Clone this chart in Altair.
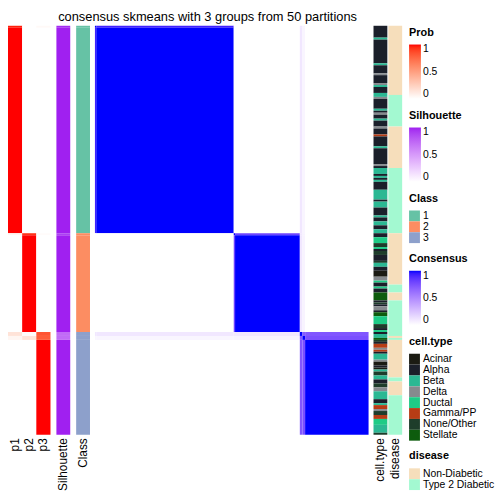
import altair as alt
import numpy as np
import pandas as pd

TITLE = "consensus skmeans with 3 groups from 50 partitions"
FONT = "Liberation Sans"

# sample groups (in heatmap order) and their values
group_sizes = [1, 104, 1, 49, 2, 2, 48]
group_class = ["1", "1", "2", "2", "3", "3", "3"]
group_p1 = [0.97, 1.0, 0.05, 0.0, 0.15, 0.05, 0.0]
group_p2 = [0.0, 0.0, 0.93, 1.0, 0.02, 0.15, 0.0]
group_p3 = [0.03, 0.0, 0.02, 0.0, 0.83, 0.80, 1.0]
group_silhouette = [0.97, 1.0, 0.9, 1.0, 0.72, 0.72, 1.0]
consensus_matrix = [
    [1.00, 0.93, 0.00, 0.00, 0.10, 0.04, 0.00],
    [0.93, 1.00, 0.00, 0.00, 0.10, 0.04, 0.00],
    [0.00, 0.00, 1.00, 0.80, 0.10, 0.05, 0.00],
    [0.00, 0.00, 0.80, 1.00, 0.10, 0.05, 0.00],
    [0.10, 0.10, 0.10, 0.10, 1.00, 0.70, 0.72],
    [0.04, 0.04, 0.05, 0.05, 0.70, 1.00, 0.75],
    [0.00, 0.00, 0.00, 0.00, 0.72, 0.75, 1.00],
]

cell_type_runs = [
    ("Alpha", 6), ("Beta", 1), ("Alpha", 12), ("Beta", 1), ("Alpha", 4), ("Delta", 1),
    ("Alpha", 4), ("Delta", 1), ("Beta", 1), ("Alpha", 3), ("Beta", 2), ("Delta", 1),
    ("Alpha", 5), ("Beta", 1), ("Alpha", 1), ("Delta", 1), ("Alpha", 2), ("Beta", 1),
    ("Alpha", 3), ("Delta", 1), ("Alpha", 3), ("Gamma/PP", 1), ("Alpha", 5), ("Beta", 1),
    ("Alpha", 8), ("Delta", 1), ("Alpha", 1), ("Beta", 3), ("Alpha", 1), ("Beta", 1),
    ("Alpha", 1), ("Beta", 1), ("Alpha", 4), ("Beta", 5), ("Alpha", 1), ("Beta", 3),
    ("Alpha", 4), ("Beta", 1), ("Alpha", 2), ("Beta", 2), ("Alpha", 2), ("Beta", 2),
    ("Alpha", 2), ("Ductal", 3), ("None/Other", 2), ("Ductal", 1), ("Alpha", 1),
    ("None/Other", 2), ("Alpha", 3), ("None/Other", 1), ("Beta", 2), ("Alpha", 2),
    ("Acinar", 3), ("Delta", 2), ("Ductal", 1), ("Alpha", 2), ("Ductal", 1), ("Alpha", 2),
    ("Stellate", 4), ("Alpha", 1), ("None/Other", 1), ("Alpha", 1), ("Delta", 2),
    ("Alpha", 1), ("Stellate", 2), ("Ductal", 4), ("None/Other", 2), ("Alpha", 1),
    ("Ductal", 1),
    ("Alpha", 1), ("Beta", 2), ("Stellate", 1), ("None/Other", 1), ("Alpha", 1),
    ("Gamma/PP", 2), ("Delta", 1), ("Gamma/PP", 1), ("Alpha", 1), ("Beta", 3), ("Delta", 1),
    ("Acinar", 2), ("Alpha", 1), ("Acinar", 1), ("Beta", 1), ("None/Other", 2), ("Beta", 2),
    ("Alpha", 2), ("None/Other", 2), ("Delta", 2), ("Beta", 4), ("Alpha", 2), ("Beta", 1),
    ("Gamma/PP", 2), ("Delta", 1), ("None/Other", 2), ("Gamma/PP", 2), ("Ductal", 3),
    ("Beta", 4), ("None/Other", 1),
]

disease_runs = [
    ("Non-Diabetic", 35), ("Type 2 Diabetic", 16), ("Non-Diabetic", 21),
    ("Type 2 Diabetic", 33), ("Non-Diabetic", 26), ("Type 2 Diabetic", 4),
    ("Non-Diabetic", 4), ("Type 2 Diabetic", 18), ("Non-Diabetic", 1),
    ("Type 2 Diabetic", 1), ("Non-Diabetic", 19), ("Type 2 Diabetic", 2),
    ("Non-Diabetic", 7), ("Type 2 Diabetic", 20),
]

class_levels = ["1", "2", "3"]
class_colors = ["#66c2a5", "#fc8d62", "#8da0cb"]
celltype_levels = ["Acinar", "Alpha", "Beta", "Delta", "Ductal", "Gamma/PP", "None/Other", "Stellate"]
celltype_colors = ["#1b1b13", "#1b1f2a", "#2bb893", "#868a8e", "#1ecb86", "#b73c15", "#1e3d2b", "#0d5c0d"]
disease_levels = ["Non-Diabetic", "Type 2 Diabetic"]
disease_colors = ["#f6debb", "#a3f9d1"]

# ---- build tables (runs of consecutive samples) ----
N = int(sum(group_sizes))
G = len(group_sizes)
g_end = np.cumsum(group_sizes)
g_start = g_end - np.array(group_sizes)

groups = pd.DataFrame({
    "y0": g_start, "y1": g_end,
    "p1": group_p1, "p2": group_p2, "p3": group_p3,
    "silhouette": group_silhouette, "cls": group_class,
})
plong = groups.melt(id_vars=["y0", "y1"], value_vars=["p1", "p2", "p3"],
                    var_name="col", value_name="prob")


def runs_table(runs, field):
    counts = np.array([r[1] for r in runs])
    e = np.cumsum(counts)
    return pd.DataFrame({"y0": e - counts, "y1": e, field: [r[0] for r in runs]})


ct_df = runs_table(cell_type_runs, "celltype")
dis_df = runs_table(disease_runs, "disease")

blocks = pd.DataFrame([
    {"x0": int(g_start[j]), "x1": int(g_end[j]), "y0": int(g_start[i]), "y1": int(g_end[i]),
     "consensus": consensus_matrix[i][j]}
    for i in range(G) for j in range(G)
])

# ---- encodings ----
H = 414
yscale = alt.Scale(domain=[0, N], reverse=True, nice=False, zero=False)
yenc = alt.Y("y0:Q", scale=yscale, axis=None)
y2enc = alt.Y2("y1:Q")
band = alt.Scale(paddingInner=0, paddingOuter=0)


def bottom_axis():
    return alt.Axis(title=None, labelAngle=270, labelAlign="right", labelBaseline="middle",
                    ticks=False, domain=False, labelPadding=3, labelFontSize=12,
                    labelFont=FONT, labelColor="black")


prob_scale = alt.Scale(domain=[0, 1], range=["#ffffff", "#ff0000"], interpolate="lab")
sil_scale = alt.Scale(domain=[0, 1], range=["#ffffff", "#a020f0"], interpolate="lab")
cons_scale = alt.Scale(domain=[0, 1], range=["#ffffff", "#0000ff"], interpolate="lab")
class_scale = alt.Scale(domain=class_levels, range=class_colors)
ct_scale = alt.Scale(domain=celltype_levels, range=celltype_colors)
dis_scale = alt.Scale(domain=disease_levels, range=disease_colors)

p_chart = alt.Chart(plong).mark_rect().encode(
    x=alt.X("col:N", axis=bottom_axis(), scale=band, sort=["p1", "p2", "p3"]),
    y=yenc, y2=y2enc,
    color=alt.Color("prob:Q", scale=prob_scale, legend=None),
).properties(width=43, height=H)

sil_chart = alt.Chart(groups.assign(col="Silhouette")).mark_rect().encode(
    x=alt.X("col:N", axis=bottom_axis(), scale=band),
    y=yenc, y2=y2enc,
    color=alt.Color("silhouette:Q", scale=sil_scale, legend=None),
).properties(width=14, height=H)

class_chart = alt.Chart(groups.assign(col="Class")).mark_rect().encode(
    x=alt.X("col:N", axis=bottom_axis(), scale=band),
    y=yenc, y2=y2enc,
    color=alt.Color("cls:N", scale=class_scale, legend=None),
).properties(width=14, height=H)

cons_chart = alt.Chart(blocks).mark_rect().encode(
    x=alt.X("x0:Q", scale=alt.Scale(domain=[0, N], nice=False, zero=False), axis=None),
    x2="x1:Q",
    y=yenc, y2=y2enc,
    color=alt.Color("consensus:Q", scale=cons_scale, legend=None),
).properties(width=277, height=H)

ct_chart = alt.Chart(ct_df.assign(col="cell.type")).mark_rect().encode(
    x=alt.X("col:N", axis=bottom_axis(), scale=band),
    y=yenc, y2=y2enc,
    color=alt.Color("celltype:N", scale=ct_scale, legend=None),
).properties(width=14, height=H)

grad = dict(values=[0, 0.5, 1], format=".1~f")
inv = alt.Chart(groups).mark_rect().transform_filter("false")
l_prob = inv.encode(y=yenc, y2=y2enc, color=alt.Color("p1:Q", scale=prob_scale, title="Prob", legend=alt.Legend(**grad)))
l_sil = inv.encode(y=yenc, y2=y2enc, color=alt.Color("silhouette:Q", scale=sil_scale, title="Silhouette", legend=alt.Legend(**grad)))
l_cls = inv.encode(y=yenc, y2=y2enc, color=alt.Color("cls:N", scale=class_scale, title="Class"))
l_cons = inv.encode(y=yenc, y2=y2enc, color=alt.Color("p2:Q", scale=cons_scale, title="Consensus", legend=alt.Legend(**grad)))
l_ct = alt.Chart(ct_df).mark_rect().transform_filter("false").encode(
    y=yenc, y2=y2enc, color=alt.Color("celltype:N", scale=ct_scale, title="cell.type"))
dis_chart = alt.Chart(dis_df.assign(col="disease")).mark_rect().encode(
    x=alt.X("col:N", axis=bottom_axis(), scale=band),
    y=yenc, y2=y2enc,
    color=alt.Color("disease:N", scale=dis_scale, title="disease"),
)
legend_panel = alt.layer(l_prob, l_sil, l_cls, l_cons, l_ct, dis_chart).resolve_scale(
    color="independent").properties(width=14, height=H)

left = alt.hconcat(p_chart, sil_chart, class_chart, spacing=6).resolve_scale(color="independent")
right = alt.hconcat(ct_chart, legend_panel, spacing=1).resolve_scale(color="independent")

chart = alt.hconcat(left, cons_chart, right, spacing=5).resolve_scale(
    color="independent"
).properties(
    title=alt.TitleParams(TITLE, fontSize=13, font=FONT, fontWeight="normal", anchor="middle",
                          offset=2, color="black", dx=-45),
    padding=0,
).configure_view(stroke=None).configure_legend(
    titleFont=FONT, labelFont=FONT, titleFontSize=11, labelFontSize=10.5,
    titleColor="black", labelColor="black", titleFontWeight="bold",
    symbolType="square", symbolSize=121, symbolStrokeWidth=0, symbolOpacity=1,
    rowPadding=0, offset=6, titlePadding=7, padding=1, gradientLength=55, gradientThickness=12,
    labelOffset=3,
)

chart.save("out.html", embed_options={"renderer": "svg", "actions": False})
